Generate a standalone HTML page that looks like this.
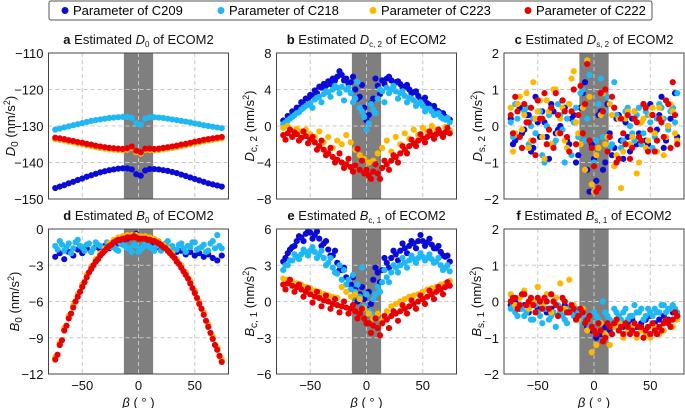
<!DOCTYPE html>
<html><head><meta charset="utf-8">
<style>
html,body{margin:0;padding:0;background:#fff;}
svg{display:block;font-family:"Liberation Sans",Arial,sans-serif;}
</style></head>
<body>
<svg id="chart" width="685" height="408" viewBox="0 0 685 408">
<g>
<rect x="49" y="1" width="603" height="19" fill="#fff" stroke="#555" stroke-width="1" rx="2"/>
<g><circle cx="65" cy="10.5" r="3.5" fill="#0a0ad8"/><text x="73" y="15" font-size="13">Parameter of C209</text></g>
<g><circle cx="221" cy="10.5" r="3.5" fill="#1fb8f5"/><text x="229" y="15" font-size="13">Parameter of C218</text></g>
<g><circle cx="373" cy="10.5" r="3.5" fill="#ffb800"/><text x="381" y="15" font-size="13">Parameter of C223</text></g>
<g><circle cx="528" cy="10.5" r="3.5" fill="#e80000"/><text x="536" y="15" font-size="13">Parameter of C222</text></g>
</g>
</svg>
<script>
const betaA = [-74,-70,-66,-62,-58,-54,-50,-46,-42,-38,-34,-30,-26,-22,-18,-14,-10,-6,-2,2,6,10,14,18,22,26,30,34,38,42,46,50,54,58,62,66,70,74];
const betaB = [-72,-68,-64,-60,-56,-52,-48,-44,-40,-36,-32,-28,-24,-20,-16,-12,-8,-4,0,4,8,12,16,20,24,28,32,36,40,44,48,52,56,60,64,68,72];
const xTicks = [-50,0,50];
const xTickLabels = ["\u221250","0","50"];

const aBlue = [-147,-146.6,-146.2,-145.7,-145.3,-144.8,-144.4,-143.9,-143.5,-143.1,-142.7,-142.4,-142.1,-141.9,-141.7,-141.6,-141.6,-141.9,-143.2,-143.6,-142.2,-141.8,-141.8,-141.9,-142.1,-142.3,-142.6,-142.9,-143.3,-143.7,-144.1,-144.5,-144.9,-145.3,-145.7,-146.0,-146.3,-146.6];
const aLight = [-131,-130.7,-130.4,-130.1,-129.8,-129.5,-129.2,-128.9,-128.6,-128.4,-128.2,-128.0,-127.8,-127.7,-127.6,-127.5,-127.5,-127.8,-129.2,-129.6,-128.0,-127.6,-127.6,-127.7,-127.8,-128.0,-128.2,-128.4,-128.6,-128.8,-129.0,-129.3,-129.5,-129.8,-130.0,-130.2,-130.4,-130.6];
const aOrange = [-133.6,-133.8,-134.0,-134.3,-134.5,-134.8,-135.0,-135.3,-135.5,-135.8,-136.0,-136.2,-136.4,-136.5,-136.6,-136.7,-136.5,-136.0,-137.2,-137.6,-136.6,-136.6,-136.7,-136.6,-136.4,-136.2,-136.0,-135.8,-135.5,-135.3,-135.0,-134.7,-134.5,-134.2,-134.0,-133.8,-133.6,-133.4];
const aRed = [-133.2,-133.4,-133.6,-133.9,-134.1,-134.4,-134.6,-134.9,-135.1,-135.4,-135.6,-135.8,-136.0,-136.1,-136.2,-136.3,-136.1,-135.6,-136.8,-137.2,-136.2,-136.2,-136.3,-136.2,-136.0,-135.8,-135.6,-135.4,-135.1,-134.9,-134.6,-134.3,-134.1,-133.8,-133.6,-133.4,-133.2,-133.0];

const bBlue = [0.6,1.1,1.6,2.0,2.6,3.0,3.4,3.9,4.3,4.6,4.9,5.2,5.4,5.6,5.2,4.8,4.0,3.2,2.0,1.2,3.0,4.4,5.0,5.2,5.0,4.8,4.6,4.3,4.0,3.7,3.3,2.9,2.5,2.1,1.7,1.3,1.0,0.7];
const bBlue2 = [0.4,1.0,1.4,2.0,2.4,3.0,3.3,3.6,4.2,4.4,4.6,5.0,6.0,5.0,4.6,5.4,3.0,4.5,0.6,2.5,5.2,3.5,4.6,5.4,4.4,4.9,4.2,4.5,3.6,3.8,2.9,3.1,2.3,2.2,1.6,1.4,0.8];
const bLight = [0.2,0.6,1.0,1.4,1.8,2.2,2.5,2.9,3.2,3.5,3.7,4.0,4.2,4.3,4.0,3.6,3.0,2.0,1.0,0.3,1.8,3.0,3.8,4.2,4.0,3.8,3.6,3.3,3.1,2.8,2.5,2.2,1.9,1.6,1.3,1.0,0.7,0.4];
const bLight2 = [0.4,0.8,1.2,1.5,2.0,2.3,2.0,3.1,2.6,3.8,3.2,4.4,3.6,2.8,4.2,2.6,4.8,1.6,-0.4,2.4,1.4,4.0,2.6,3.6,4.4,3.0,3.8,2.6,3.0,2.2,2.6,1.6,1.9,1.2,1.4,0.8,0.9];
const bOrange = [-0.2,0.0,-0.5,-0.3,-0.6,-0.4,-0.9,-1.2,-0.6,-1.8,-1.2,-2.4,-1.6,-2.0,-1.0,-1.8,-2.6,-3.2,-3.6,-4.0,-3.8,-3.0,-2.4,-1.6,-2.8,-1.2,-2.0,-0.8,-1.4,-0.4,-1.0,-0.2,-0.6,0.0,-0.4,-0.8,-0.1,-0.5];
const bRed = [-1.0,-0.8,-1.2,-0.9,-1.3,-1.1,-1.5,-1.8,-2.2,-2.6,-3.0,-3.4,-3.7,-4.0,-4.2,-4.5,-4.3,-4.8,-5.2,-5.4,-5.0,-5.2,-4.6,-4.2,-3.8,-3.4,-3.0,-2.6,-2.2,-1.9,-1.6,-1.4,-1.2,-1.0,-0.9,-0.8,-0.7,-0.8];
const bRed2 = [-1.5,-0.4,-0.7,-1.6,-0.6,-1.9,-1.2,-2.6,-1.6,-3.2,-2.4,-4.0,-3.0,-4.6,-3.6,-5.0,-2.5,-3.8,-4.8,-5.8,-4.2,-5.8,-3.8,-4.8,-3.2,-4.0,-2.2,-3.0,-1.5,-2.2,-0.9,-1.8,-0.6,-1.4,-0.4,-1.2,-0.2];

const cBlue = [0.2,-0.4,0.5,-0.1,0.3,-0.6,0.1,0.4,-0.3,0.6,-0.2,0.0,0.5,-0.5,0.3,-0.8,0.9,-1.2,-0.5,-1.5,0.4,-1.0,-0.2,-0.6,0.3,-0.9,-0.3,0.2,-0.5,0.1,-0.4,0.6,-0.2,0.3,-0.6,0.0,0.5,-0.3];
const cBlue2 = [-0.5,0.6,-0.2,0.3,-0.7,0.8,-0.3,0.1,-0.9,0.4,-0.1,0.7,-0.4,0.2,-1.0,0.5,1.2,-1.8,-0.9,0.3,-1.2,0.6,-0.8,0.2,-0.4,0.1,-0.7,0.4,-0.2,0.6,-0.5,0.3,-0.1,0.8,-0.4,0.2,0.9];
const cLight = [0.1,0.6,-0.3,0.4,-0.5,0.2,0.7,-0.8,0.0,0.5,-0.4,0.3,-1.0,0.6,0.1,-0.3,1.0,0.2,-1.6,-0.4,1.3,0.4,-0.6,1.2,0.2,-0.4,0.5,-0.2,0.3,-0.5,0.4,0.1,-0.3,0.6,0.2,-0.1,0.5,0.9];
const cLight2 = [-0.3,0.2,-0.6,0.5,0.0,-0.2,0.4,-1.0,0.3,-0.5,0.6,-0.1,0.2,-0.8,0.5,0.9,-0.4,1.4,-1.0,0.6,-0.3,0.8,-0.5,0.3,-0.6,0.4,0.0,-0.4,0.5,-0.2,0.3,-0.6,0.2,0.5,-0.3,0.4,0.1];
const cOrange = [0.5,-0.2,0.8,0.3,-0.6,1.2,0.4,-0.3,0.7,-0.5,1.0,0.2,-0.4,0.6,1.5,-0.2,0.5,1.8,-1.6,-0.8,0.3,-0.5,0.6,-1.1,0.2,-0.7,0.4,-0.3,-1.3,0.1,-0.6,0.3,-0.2,0.5,-0.8,0.0,0.4,-0.4];
const cOrange2 = [-0.7,0.6,-0.1,0.9,-0.4,0.2,0.7,-0.9,0.4,1.0,-0.2,0.5,-0.6,1.3,0.1,-0.5,-1.2,0.8,-1.8,-0.6,0.9,-0.3,0.3,-0.8,-1.7,0.2,-0.5,0.4,-1.0,0.2,-0.4,0.5,-0.7,0.2,-0.3,0.6,-0.2];
const cRed = [0.3,0.8,-0.3,0.6,0.1,-0.4,0.7,0.2,-0.5,0.5,0.9,-0.2,0.4,-0.7,1.0,0.3,-0.2,1.7,-0.6,-1.8,0.9,1.0,-0.3,0.5,-0.9,-0.2,0.3,-0.6,0.1,-0.4,0.5,-0.1,-0.7,0.2,-0.3,0.6,1.2,-0.5];
const cRed2 = [-0.2,0.4,-0.6,0.1,0.5,-0.8,0.2,0.9,-0.1,-0.6,0.3,0.7,-0.3,0.4,-0.5,1.1,0.6,-0.4,-1.1,-1.7,0.4,-0.7,0.8,-1.0,0.2,-0.5,-0.9,0.2,-0.3,0.6,-0.7,0.3,-0.4,0.1,0.7,-0.6,0.3];

const dBlue = [-2.3,-2.0,-2.5,-1.9,-2.2,-1.7,-2.0,-1.6,-1.9,-1.5,-1.7,-1.4,-1.6,-1.3,-1.2,-1.0,-0.8,-0.6,-0.4,-0.7,-0.9,-1.1,-1.3,-1.5,-1.4,-1.7,-1.6,-1.9,-1.8,-2.1,-1.9,-2.2,-2.0,-2.3,-2.1,-2.4,-2.6,-2.2];
const dLight = [-1.4,-1.0,-1.8,-1.2,-1.6,-0.9,-1.5,-1.3,-1.9,-1.1,-1.4,-1.7,-1.2,-1.5,-1.8,-1.3,-1.6,-1.9,-1.4,-1.7,-1.2,-1.5,-1.8,-1.3,-1.6,-1.0,-1.4,-1.7,-1.2,-1.9,-1.5,-1.1,-1.6,-1.3,-1.8,-1.0,-0.5,-1.6];
const dLight2 = [-1.7,-1.3,-1.5,-2.0,-1.1,-1.4,-1.8,-1.2,-1.6,-1.3,-1.9,-1.1,-1.5,-1.7,-1.2,-1.4,-1.6,-1.3,-1.9,-1.5,-1.1,-1.6,-1.4,-1.8,-1.2,-1.5,-1.7,-1.3,-1.6,-1.4,-1.1,-1.7,-1.5,-1.9,-1.2,-1.6,-1.4];
const dOrange = [-10.6,-9.4,-8.2,-7.2,-6.3,-5.4,-4.6,-3.8,-3.1,-2.5,-2.0,-1.6,-1.2,-0.9,-0.7,-0.6,-0.5,-0.5,-0.5,-0.6,-0.6,-0.7,-0.8,-1.0,-1.3,-1.6,-2.0,-2.5,-3.0,-3.6,-4.3,-5.1,-6.0,-6.9,-7.9,-8.9,-9.8,-10.8];
const dRed = [-10.8,-9.6,-8.4,-7.4,-6.5,-5.6,-4.8,-4.0,-3.3,-2.7,-2.2,-1.8,-1.4,-1.1,-0.9,-0.8,-0.7,-0.7,-0.7,-0.8,-0.8,-0.9,-1.0,-1.2,-1.5,-1.8,-2.2,-2.7,-3.2,-3.8,-4.5,-5.3,-6.2,-7.1,-8.1,-9.1,-10.0,-11.0];
const dRed2 = [-10.4,-9.2,-8.0,-7.0,-6.0,-5.2,-4.4,-3.6,-3.0,-2.5,-2.0,-1.6,-1.3,-1.0,-0.9,-0.8,-0.7,-0.6,-0.8,-0.8,-0.9,-1.0,-1.1,-1.3,-1.6,-2.0,-2.4,-2.9,-3.5,-4.1,-4.9,-5.7,-6.6,-7.6,-8.6,-9.6,-10.5];

const eBlue = [3.3,4.0,4.5,5.0,5.3,5.6,5.7,5.5,5.2,4.8,4.3,3.8,3.2,2.6,2.0,1.4,1.0,0.6,0.2,0.8,1.8,2.4,2.6,3.2,3.6,3.9,4.2,4.4,4.6,4.8,5.0,5.0,4.9,4.7,4.4,4.1,3.7,3.3];
const eBlue2 = [3.6,4.3,4.6,5.4,5.0,5.8,5.2,5.8,4.6,5.0,3.8,4.2,2.6,2.8,1.5,2.0,0.0,1.2,-0.6,-0.2,2.8,1.6,3.6,2.8,4.2,3.4,4.8,4.0,5.0,4.4,5.5,4.6,5.2,4.4,4.6,3.8,3.8];
const eLight = [2.6,3.0,3.4,3.7,3.9,4.1,4.2,4.1,3.9,3.6,3.2,2.8,2.3,1.8,1.4,1.0,0.8,0.4,-0.4,-0.8,0.2,1.2,1.6,2.0,2.4,2.8,3.0,3.2,3.4,3.5,3.6,3.7,3.6,3.5,3.3,3.0,2.8,2.5];
const eLight2 = [3.0,3.4,3.9,3.5,4.3,3.8,4.5,3.6,4.2,3.0,3.6,2.4,3.0,2.6,1.8,2.2,1.4,2.8,0.6,-1.0,0.6,0.8,2.6,1.6,3.0,2.4,3.6,2.8,3.8,3.2,4.0,3.4,3.9,3.2,3.6,2.6,3.0];
const eOrange = [1.9,1.8,1.6,1.5,1.4,1.2,1.1,0.9,0.8,0.6,0.5,0.4,0.3,1.2,0.8,0.4,0.6,0.2,-0.6,-1.0,-1.4,-1.0,-1.6,-0.8,-0.4,-0.2,0.0,0.2,0.4,0.5,0.6,0.8,1.0,1.1,1.2,1.4,1.5,1.7];
const eRed = [1.4,1.5,1.3,1.2,1.0,0.8,0.6,0.4,0.3,0.1,0.0,-0.2,-0.3,-0.4,-0.5,-0.6,-0.8,-1.0,-1.4,-1.8,-2.0,-2.2,-1.8,-1.5,-1.2,-1.0,-0.8,-0.6,-0.4,-0.2,0.0,0.2,0.4,0.6,0.8,1.0,1.2,1.3];
const eRed2 = [1.0,1.8,0.8,1.4,0.4,1.1,-0.1,0.8,-0.4,0.5,-0.6,0.2,-0.9,0.0,-1.0,-0.3,-1.4,-0.6,-1.8,-2.6,-1.4,-2.8,-1.2,-2.2,-0.8,-1.6,-0.3,-1.0,0.1,-0.6,0.5,-0.2,0.9,0.2,1.2,0.6,1.6];

const fBlue = [-0.1,0.0,-0.2,-0.1,-0.3,0.0,-0.2,-0.1,-0.3,-0.2,0.1,-0.3,-0.1,-0.2,-0.3,-0.4,-0.5,-0.7,-0.8,-1.0,-0.9,-0.7,-0.8,-0.6,-0.5,-0.7,-0.6,-0.5,-0.7,-0.6,-0.5,-0.4,-0.6,-0.5,-0.4,-0.5,-0.3,-0.4];
const fLight = [-0.2,-0.3,-0.1,-0.4,-0.2,-0.5,-0.3,-0.6,-0.2,-0.4,-0.7,-0.3,-0.5,-0.2,-0.4,-0.3,-0.6,-0.5,-0.7,-0.4,-0.6,-0.3,-0.5,-0.2,-0.4,-0.3,-0.5,-0.4,-0.3,-0.2,-0.4,-0.3,-0.2,-0.3,-0.1,-0.2,-0.1,-0.3];
const fLight2 = [-0.1,-0.4,-0.2,-0.3,-0.5,-0.1,-0.4,-0.2,-0.5,-0.3,-0.1,-0.4,-0.6,-0.3,-0.2,-0.5,-0.4,-0.7,-0.3,-0.5,0.0,-0.4,-0.6,-0.3,-0.5,-0.2,-0.4,-0.1,-0.3,-0.5,-0.2,-0.4,-0.3,-0.1,-0.3,-0.2,-0.2];
const fOrange = [0.2,-0.1,0.1,0.3,-0.2,0.0,0.4,-0.1,0.2,-0.3,0.1,0.5,-0.2,0.6,-0.1,-0.5,-0.2,-0.8,-1.4,-1.2,-0.6,-0.9,-1.2,-0.7,-0.6,-1.0,-0.8,-0.7,-1.0,-0.8,-0.9,-1.0,-0.7,-0.9,-0.8,-0.6,-0.7,-0.5];
const fRed = [0.0,0.1,-0.1,0.2,0.0,-0.1,0.1,-0.2,0.0,0.2,-0.1,-0.2,0.0,-0.3,-0.2,-0.4,-0.3,-0.5,-0.7,-0.9,-0.8,-1.0,-0.7,-0.6,-0.8,-0.9,-0.7,-0.8,-0.9,-0.7,-0.8,-0.9,-0.8,-0.7,-0.6,-0.6,-0.5,-0.4];
const fRed2 = [0.1,-0.2,0.2,-0.1,0.1,-0.3,0.0,0.1,-0.2,0.0,-0.4,0.1,-0.3,-0.1,-0.5,-0.2,-0.6,-0.4,-0.8,-0.6,-1.1,-0.6,-0.9,-0.5,-0.7,-0.6,-0.9,-0.6,-0.7,-1.0,-0.7,-0.6,-0.9,-0.8,-0.5,-0.7,-0.3];

const aTicks = [-150,-140,-130,-120,-110];
const bTicks = [-8,-4,0,4,8];
const cTicks = [-2,-1,0,1,2];
const dTicks = [-12,-9,-6,-3,0];
const eTicks = [-6,-3,0,3,6];
const fTicks = [-2,-1,0,1,2];

const COL = {blue:"#0a0ad8", light:"#1fb8f5", orange:"#ffb800", red:"#e80000"};
const NS = "http://www.w3.org/2000/svg";
const svg = document.getElementById("chart");
function mk(tag, attrs, parent){
  const e = document.createElementNS(NS, tag);
  for (const k in attrs) e.setAttribute(k, attrs[k]);
  (parent||svg).appendChild(e);
  return e;
}
const colsX = [48.5, 276.5, 504];
const rowsY = [[53,199],[229,374]];
const PW = 180;

const panels = [
 {id:"a", col:0, row:0, ticks:aTicks, letter:"a", sym:"D", sub:"0", ylab:"10",
  series:[["blue",betaA,aBlue],["light",betaA,aLight],["orange",betaA,aOrange],["red",betaA,aRed]]},
 {id:"b", col:1, row:0, ticks:bTicks, letter:"b", sym:"D", sub:"c, 2", ylab:"249",
  series:[["blue",betaA,bBlue],["blue",betaB,bBlue2],["light",betaA,bLight],["light",betaB,bLight2],["orange",betaA,bOrange],["red",betaA,bRed],["red",betaB,bRed2]]},
 {id:"c", col:2, row:0, ticks:cTicks, letter:"c", sym:"D", sub:"s, 2", ylab:"477",
  series:[["blue",betaA,cBlue],["blue",betaB,cBlue2],["light",betaA,cLight],["light",betaB,cLight2],["orange",betaA,cOrange],["orange",betaB,cOrange2],["red",betaA,cRed],["red",betaB,cRed2]]},
 {id:"d", col:0, row:1, ticks:dTicks, letter:"d", sym:"B", sub:"0", ylab:"14",
  series:[["blue",betaA,dBlue],["light",betaA,dLight],["light",betaB,dLight2],["orange",betaA,dOrange],["red",betaA,dRed],["red",betaB,dRed2]]},
 {id:"e", col:1, row:1, ticks:eTicks, letter:"e", sym:"B", sub:"c, 1", ylab:"249",
  series:[["blue",betaA,eBlue],["blue",betaB,eBlue2],["light",betaA,eLight],["light",betaB,eLight2],["orange",betaA,eOrange],["red",betaA,eRed],["red",betaB,eRed2]]},
 {id:"f", col:2, row:1, ticks:fTicks, letter:"f", sym:"B", sub:"s, 1", ylab:"476",
  series:[["blue",betaA,fBlue],["light",betaA,fLight],["light",betaB,fLight2],["orange",betaA,fOrange],["red",betaA,fRed],["red",betaB,fRed2]]}
];

panels.forEach(p => {
  const x0 = colsX[p.col], x1 = x0 + PW;
  const y0 = rowsY[p.row][0], y1 = rowsY[p.row][1];
  const tmin = p.ticks[0], tmax = p.ticks[p.ticks.length-1];
  const sx = v => x0 + (v + 80) / 160 * PW;
  const sy = v => y1 - (v - tmin) / (tmax - tmin) * (y1 - y0);
  const g = mk("g", {});
  
  

  const band = mk("rect", {x:sx(-13), y:y0, width:sx(13)-sx(-13), height:y1-y0, fill:"#7f7f7f"}, g);
  
  

  xTicks.forEach(t => {
    const l = mk("line", {x1:sx(t), x2:sx(t), y1:y0, y2:y1, stroke:"#c8c8c8", "stroke-width":1, "stroke-dasharray":"4,3"}, g);
    
    
  });
  p.ticks.forEach((t,i) => {
    if (i>0 && i<p.ticks.length-1) {
      const l = mk("line", {x1:x0, x2:x1, y1:sy(t), y2:sy(t), stroke:"#c8c8c8", "stroke-width":1, "stroke-dasharray":"4,3"}, g);
      
      
    }
    const tl = mk("text", {x:x0-5, y:sy(t)+5, "font-size":13, "text-anchor":"end", fill:"#111"}, g);
    tl.textContent = String(t).replace("-", "\u2212");
    
    
  });

  const pts = mk("g", {}, g);
  
  
  p.series.forEach(s => {
    const xs = s[1], ys = s[2];
    ys.forEach((v,i) => {
      const c = mk("circle", {cx:sx(xs[i]), cy:sy(v), r:3.1, fill:COL[s[0]]}, pts);
      
      
    });
  });

  const frame = mk("rect", {x:x0, y:y0, width:PW, height:y1-y0, fill:"none", stroke:"#444", "stroke-width":1}, g);
  
  

  const title = mk("text", {x:(x0+x1)/2, y:y0-9, "font-size":13, "text-anchor":"middle", fill:"#111"}, g);
  title.innerHTML = '<tspan font-weight="bold">'+p.letter+'</tspan> Estimated <tspan font-style="italic">'+p.sym+'</tspan><tspan font-size="8" dy="3">'+p.sub+'</tspan><tspan dy="-3"> of ECOM2</tspan>';
  
  

  const yc = (y0+y1)/2, xl = +p.ylab;
  const yl = mk("text", {x:xl+5, y:yc, "font-size":13, "text-anchor":"middle", fill:"#111", transform:"rotate(-90 "+(xl+5)+" "+yc+")"}, g);
  yl.innerHTML = '<tspan font-style="italic">'+p.sym+'</tspan><tspan font-size="10" dy="3">'+p.sub+'</tspan><tspan dy="-3"> (nm/s</tspan><tspan font-size="9" dy="-5">2</tspan><tspan dy="5">)</tspan>';
  
  

  if (p.row === 1) {
    xTicks.forEach((t,i) => {
      const xl2 = mk("text", {x:sx(t), y:y1+16, "font-size":13, "text-anchor":"middle", fill:"#111"}, g);
      xl2.textContent = xTickLabels[i];
      
      
    });
    const xt = mk("text", {x:sx(0), y:y1+33, "font-size":13, "text-anchor":"middle", fill:"#111"}, g);
    xt.innerHTML = '<tspan font-style="italic">β</tspan> ( ° )';
    
    
  }
});
</script>
</body></html>
